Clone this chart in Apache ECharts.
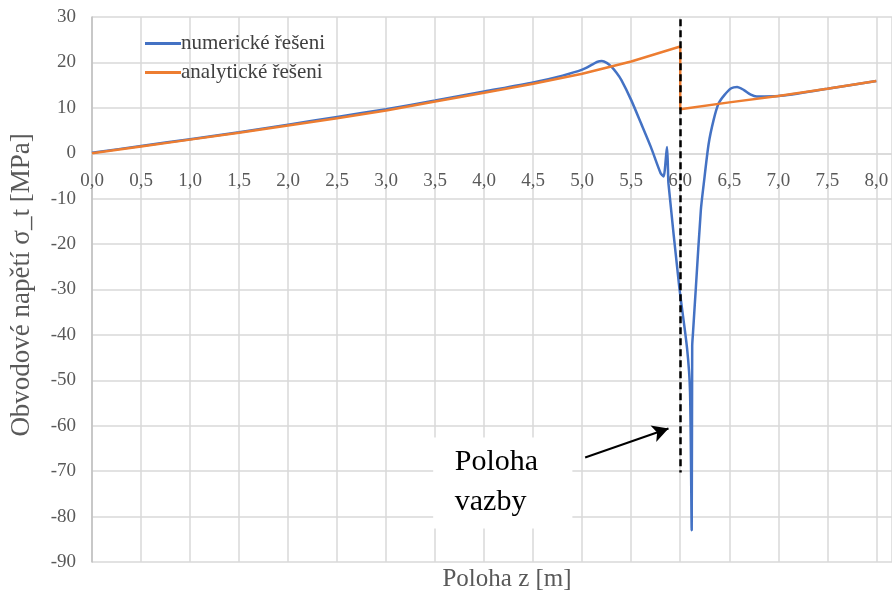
<!DOCTYPE html>
<html>
<head>
<meta charset="utf-8">
<script src="https://cdn.jsdelivr.net/npm/echarts@6/dist/echarts.min.js"></script>
<style>
  html, body { margin: 0; padding: 0; background: #ffffff; }
  #chart { width: 892px; height: 595px; }
</style>
</head>
<body>
<div id="chart"></div>
<script>
// Position along the shell z [m] and hoop stress sigma_t [MPa]
const numericZ = [0, 0.5, 1.0, 1.5, 2.0, 2.5, 3.0, 3.5, 4.0, 4.5, 4.8, 5.0, 5.1, 5.15, 5.2, 5.25, 5.3, 5.35, 5.4, 5.5, 5.6, 5.7, 5.8, 5.83, 5.865, 5.875, 5.88, 5.99, 6.07, 6.10, 6.117, 6.122, 6.13, 6.16, 6.21, 6.24, 6.29, 6.34, 6.39, 6.45, 6.52, 6.58, 6.65, 6.72, 6.78, 7.0, 7.5, 8.0];
const numericSigma = [0.1, 1.6, 3.1, 4.6, 6.3, 8.0, 9.7, 11.6, 13.6, 15.6, 17.1, 18.4, 19.5, 20.1, 20.3, 19.9, 19.0, 17.7, 16.1, 11.7, 6.6, 1.4, -4.4, -5.1, 1.4, -3.5, -6.7, -29.4, -43.0, -52.6, -83.0, -42.5, -39.6, -29.4, -12.6, -6.7, 2.1, 7.3, 10.9, 12.8, 14.3, 14.6, 13.9, 12.9, 12.5, 12.6, 14.2, 15.9];

const analyticZ = [0, 0.5, 1.0, 1.5, 2.0, 2.5, 3.0, 3.5, 4.0, 4.5, 5.0, 5.5, 6.0, 6.0, 6.5, 7.0, 7.5, 8.0];
const analyticSigma = [0, 1.5, 3.0, 4.5, 6.1, 7.7, 9.4, 11.4, 13.3, 15.3, 17.5, 20.2, 23.5, 9.7, 11.2, 12.6, 14.2, 15.9];

const seriesNames = ['numerické řešeni', 'analytické řešeni'];
const supportZ = 6.0;              // position of the support (vazby)
const supportRange = [29.5, -70.3];
const arrowFrom = [5.03, -67.0];
const arrowTo = [5.88, -60.6];
const noteText = 'Poloha\nvazby';

const xTitle = 'Poloha z [m]';
const yTitle = 'Obvodové napětí σ_t [MPa]';

const yMin = -90, yMax = 30;

const pairs = (xs, ys) => xs.map((x, i) => [x, ys[i]]);

const serif = 'Liberation Serif, Times New Roman, serif';
const gridColor = '#d9d9d9';
const labelColor = '#595959';

const gridTop = 17, gridBottom = 33;
const plotHeight = 595 - gridTop - gridBottom;
// lift the horizontal axis (line and labels) from the bottom edge up to sigma = 0
const zeroOffset = -plotHeight * (0 - yMin) / (yMax - yMin);

const chart = echarts.init(document.getElementById('chart'), null, { renderer: 'canvas' });

chart.setOption({
  animation: false,
  backgroundColor: '#ffffff',
  grid: { left: 92, top: gridTop, right: 0, bottom: gridBottom, containLabel: false },
  legend: {
    data: seriesNames,
    orient: 'vertical',
    left: 140,
    top: 28,
    itemGap: 8,
    itemWidth: 36,
    itemHeight: 3,
    icon: 'rect',
    textStyle: { fontFamily: serif, fontSize: 21, color: '#404040', padding: [0, 0, 0, -5] }
  },
  xAxis: {
    type: 'value',
    min: 0,
    max: 8.16,
    interval: 0.5,
    offset: zeroOffset,
    axisLine: { onZero: false, lineStyle: { color: gridColor, width: 1.5 } },
    axisTick: { show: false },
    splitLine: { lineStyle: { color: gridColor, width: 1.5 } },
    axisLabel: {
      margin: 18,
      fontFamily: serif,
      fontSize: 19,
      color: labelColor,
      showMaxLabel: false,
      formatter: v => (Math.abs(v / 0.5 - Math.round(v / 0.5)) < 1e-6) ? v.toFixed(1).replace('.', ',') : ''
    }
  },
  yAxis: {
    type: 'value',
    min: yMin,
    max: yMax,
    interval: 10,
    axisLine: { show: true, lineStyle: { color: '#bfbfbf', width: 1.5 } },
    axisTick: { show: false },
    splitLine: { lineStyle: { color: gridColor, width: 1.5 } },
    axisLabel: { margin: 16, fontFamily: serif, fontSize: 19, color: labelColor }
  },
  series: [
    {
      name: seriesNames[0],
      type: 'line',
      data: pairs(numericZ, numericSigma),
      showSymbol: false,
      symbol: 'none',
      smooth: 0.25,
      lineStyle: { color: '#4472c4', width: 2.5 },
      itemStyle: { color: '#4472c4' }
    },
    {
      name: seriesNames[1],
      type: 'line',
      data: pairs(analyticZ, analyticSigma),
      showSymbol: false,
      symbol: 'none',
      lineStyle: { color: '#ed7d31', width: 2.5 },
      itemStyle: { color: '#ed7d31' }
    },
    {
      // support position and pointer to it
      name: 'annotation',
      type: 'line',
      data: [],
      silent: true,
      markLine: {
        silent: true,
        animation: false,
        label: { show: false },
        data: [
          [
            { coord: [supportZ, supportRange[0]], symbol: 'none', lineStyle: { color: '#000000', width: 2.5, type: [7, 4] } },
            { coord: [supportZ, supportRange[1]], symbol: 'none' }
          ],
          [
            { coord: arrowFrom, symbol: 'none', lineStyle: { color: '#000000', width: 2, type: 'solid' } },
            { coord: arrowTo, symbol: 'arrow', symbolSize: [13, 16] }
          ]
        ]
      }
    }
  ]
});

// Note box with the label of the support, anchored in data coordinates
const boxTL = chart.convertToPixel({ gridIndex: 0 }, [3.48, -62.6]);
const boxBR = chart.convertToPixel({ gridIndex: 0 }, [4.90, -82.6]);
const textAt = chart.convertToPixel({ gridIndex: 0 }, [3.70, -63.6]);

chart.setOption({
  graphic: [
    {
      type: 'rect',
      shape: { x: boxTL[0], y: boxTL[1], width: boxBR[0] - boxTL[0], height: boxBR[1] - boxTL[1] },
      style: { fill: '#ffffff' },
      z: 10
    },
    {
      type: 'text',
      x: textAt[0],
      y: textAt[1],
      z: 11,
      style: { text: noteText, font: '30px ' + serif, fill: '#000000', lineHeight: 40, align: 'left', verticalAlign: 'top' }
    },
    {
      type: 'text',
      x: 507,
      y: 579,
      style: { text: xTitle, font: '25px ' + serif, fill: labelColor, align: 'center', verticalAlign: 'middle' }
    },
    {
      type: 'text',
      x: 22,
      y: 285,
      rotation: Math.PI / 2,
      style: { text: yTitle, font: '27px ' + serif, fill: labelColor, align: 'center', verticalAlign: 'middle' }
    }
  ]
});
</script>
</body>
</html>
